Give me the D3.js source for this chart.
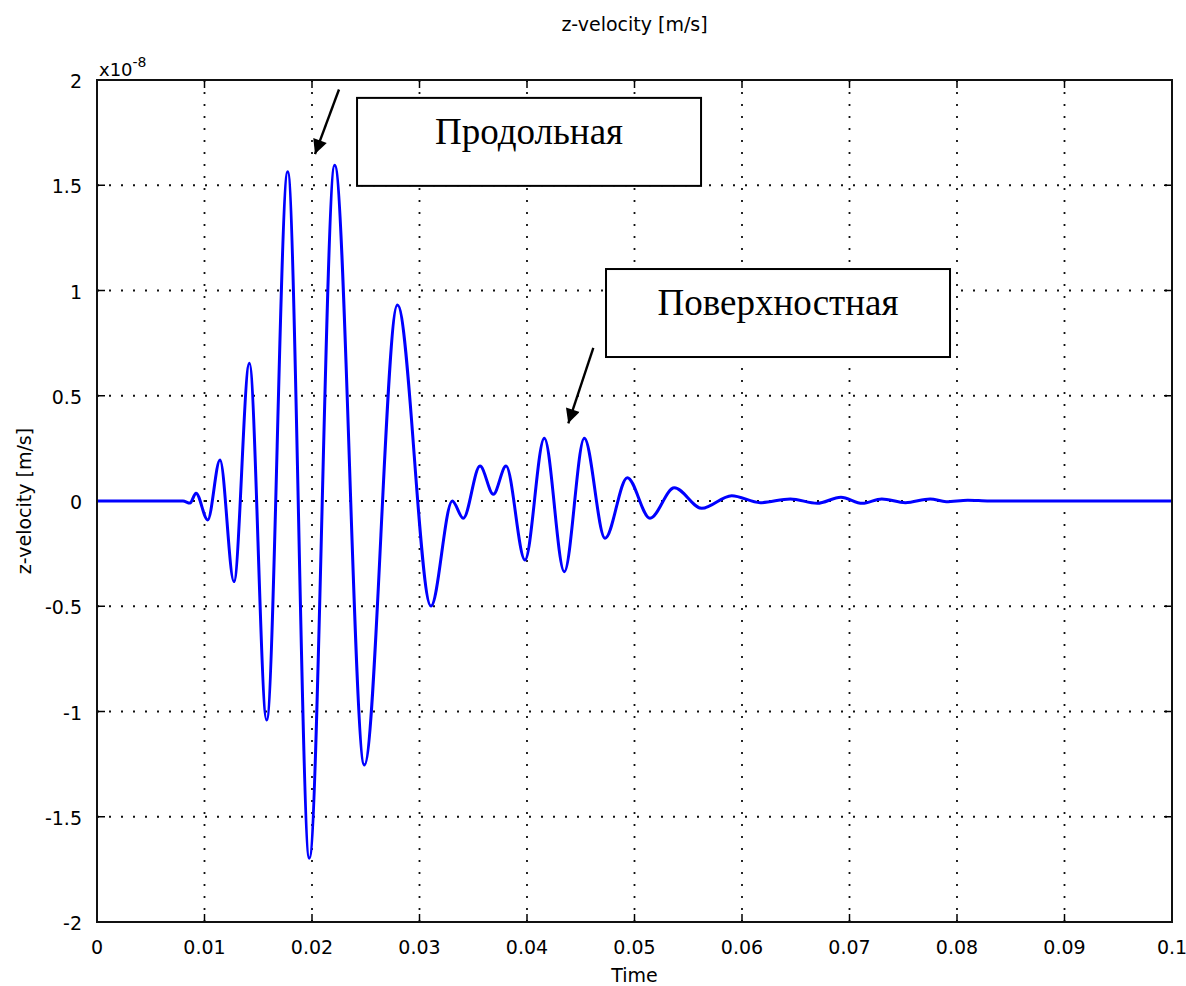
<!DOCTYPE html>
<html>
<head>
<meta charset="utf-8">
<script src="https://cdn.jsdelivr.net/npm/d3@7"></script>
<style>
  body { margin: 0; background: #fff; }
  .tick-label { font-family: "DejaVu Sans", Verdana, sans-serif; font-size: 19px; fill: #000; }
</style>
</head>
<body>
<div id="chart"></div>
<script>
// time [s] and z-velocity [x1e-8 m/s]
var timeValues = [0, 0.0080, 0.00865, 0.00921, 0.01030, 0.01144, 0.01274, 0.01417, 0.01578, 0.01774,
  0.01975, 0.02211, 0.02487, 0.02795, 0.03107, 0.03305, 0.03407, 0.03563, 0.03687, 0.03805,
  0.03981, 0.04161, 0.04347, 0.04533, 0.04726, 0.04933, 0.05144, 0.05370, 0.05625, 0.05904,
  0.0617, 0.0645, 0.0670, 0.0692, 0.0712, 0.0730, 0.0752, 0.0775, 0.0790, 0.0810, 0.0830, 0.1];
var velocityValues = [0, 0, -0.01, 0.037, -0.09, 0.195, -0.383, 0.654, -1.04, 1.564,
  -1.697, 1.595, -1.254, 0.931, -0.499, 0.0, -0.082, 0.166, 0.032, 0.166,
  -0.28, 0.298, -0.336, 0.298, -0.177, 0.111, -0.082, 0.063, -0.035, 0.025,
  -0.008, 0.01, -0.011, 0.018, -0.011, 0.01, -0.008, 0.01, -0.003, 0.004, 0, 0];

var xTicks = [0, 0.01, 0.02, 0.03, 0.04, 0.05, 0.06, 0.07, 0.08, 0.09, 0.1];
var xTickLabels = ["0", "0.01", "0.02", "0.03", "0.04", "0.05", "0.06", "0.07", "0.08", "0.09", "0.1"];
var yTicks = [2, 1.5, 1, 0.5, 0, -0.5, -1, -1.5, -2];
var yTickLabels = ["2", "1.5", "1", "0.5", "0", "-0.5", "-1", "-1.5", "-2"];

// annotations: boxes in data units, arrows [t, v] from -> to
var boxLabels = ["Продольная", "Поверхностная"];
var boxT = [[0.02419, 0.05619], [0.04735, 0.07935]];
var boxV = [[1.915, 1.497], [1.102, 0.684]];
var arrowFrom = [[0.02251, 1.955], [0.04617, 0.728]];
var arrowTo = [[0.02028, 1.648], [0.04384, 0.369]];

var width = 1186, height = 986;
var margin = {top: 80, right: 14, bottom: 64, left: 97};

var svg = d3.select("#chart").append("svg").attr("width", width).attr("height", height);

var x = d3.scaleLinear().domain([0, 0.1]).range([margin.left, width - margin.right]);
var y = d3.scaleLinear().domain([-2, 2]).range([height - margin.bottom, margin.top]);

var data = timeValues.map(function (t, i) { return {t: t, v: velocityValues[i]}; });

// dotted grid
var grid = svg.append("g").attr("stroke", "#111").attr("stroke-width", 1.8).attr("stroke-dasharray", "2,10");
grid.selectAll("line.gx").data(xTicks.slice(1, -1)).enter().append("line")
  .attr("x1", function (d) { return x(d); }).attr("x2", function (d) { return x(d); })
  .attr("y1", y(-2)).attr("y2", y(2));
grid.selectAll("line.gy").data(yTicks.slice(1, -1)).enter().append("line")
  .attr("y1", function (d) { return y(d); }).attr("y2", function (d) { return y(d); })
  .attr("x1", x(0)).attr("x2", x(0.1));

// inward ticks on all four sides
var tk = svg.append("g").attr("stroke", "#000").attr("stroke-width", 1.5);
xTicks.forEach(function (d) {
  tk.append("line").attr("x1", x(d)).attr("x2", x(d)).attr("y1", y(-2)).attr("y2", y(-2) - 8);
  tk.append("line").attr("x1", x(d)).attr("x2", x(d)).attr("y1", y(2)).attr("y2", y(2) + 8);
});
yTicks.forEach(function (d) {
  tk.append("line").attr("y1", y(d)).attr("y2", y(d)).attr("x1", x(0)).attr("x2", x(0) + 8);
  tk.append("line").attr("y1", y(d)).attr("y2", y(d)).attr("x1", x(0.1)).attr("x2", x(0.1) - 8);
});

// signal
var line = d3.line().x(function (d) { return x(d.t); }).y(function (d) { return y(d.v); })
  .curve(d3.curveMonotoneX);
svg.append("path").datum(data).attr("d", line)
  .attr("fill", "none").attr("stroke", "#0000ff").attr("stroke-width", 3).attr("stroke-linejoin", "round");

// frame
svg.append("rect").attr("x", x(0)).attr("y", y(2)).attr("width", x(0.1) - x(0)).attr("height", y(-2) - y(2))
  .attr("fill", "none").attr("stroke", "#111").attr("stroke-width", 2);

// tick labels
svg.append("g").selectAll("text").data(xTicks).enter().append("text").attr("class", "tick-label")
  .attr("x", function (d) { return x(d); }).attr("y", y(-2) + 32)
  .attr("text-anchor", "middle")
  .text(function (d, i) { return xTickLabels[i]; });
svg.append("g").selectAll("text").data(yTicks).enter().append("text").attr("class", "tick-label")
  .attr("x", x(0) - 15).attr("y", function (d) { return y(d) + 8; })
  .attr("text-anchor", "end")
  .text(function (d, i) { return yTickLabels[i]; });

// exponent
var ex = svg.append("text").attr("x", x(0) + 2).attr("y", y(2) - 4)
  .attr("font-family", "DejaVu Sans, sans-serif").attr("font-size", 18);
ex.append("tspan").text("x10");
ex.append("tspan").attr("dy", -9).attr("font-size", 14).text("-8");

// titles
svg.append("text").attr("x", (x(0) + x(0.1)) / 2).attr("y", 31).attr("text-anchor", "middle")
  .attr("font-family", "DejaVu Sans, sans-serif").attr("font-size", 19).text("z-velocity [m/s]");
svg.append("text").attr("x", (x(0) + x(0.1)) / 2).attr("y", 982).attr("text-anchor", "middle")
  .attr("font-family", "DejaVu Sans, sans-serif").attr("font-size", 19).text("Time");
svg.append("text").attr("transform", "translate(31," + y(0) + ") rotate(-90)").attr("text-anchor", "middle")
  .attr("font-family", "DejaVu Sans, sans-serif").attr("font-size", 19).text("z-velocity [m/s]");

// annotation boxes
var ann = svg.append("g");
boxLabels.forEach(function (label, i) {
  var x0 = x(boxT[i][0]), x1 = x(boxT[i][1]), y0 = y(boxV[i][0]), y1 = y(boxV[i][1]);
  ann.append("rect").attr("x", x0).attr("y", y0).attr("width", x1 - x0).attr("height", y1 - y0)
    .attr("fill", "#fff").attr("stroke", "#000").attr("stroke-width", 2);
  ann.append("text").attr("x", (x0 + x1) / 2).attr("y", y0 + 46).attr("text-anchor", "middle")
    .attr("font-family", "Liberation Serif, Times New Roman, serif").attr("font-size", 37).text(label);
});

svg.append("defs").append("marker").attr("id", "arrowhead")
  .attr("viewBox", "0 0 10 10").attr("refX", 10).attr("refY", 5)
  .attr("markerWidth", 7).attr("markerHeight", 6).attr("markerUnits", "strokeWidth")
  .attr("orient", "auto")
  .append("path").attr("d", "M0,0 L10,5 L0,10 Z").attr("fill", "#000");

arrowFrom.forEach(function (f, i) {
  ann.append("line").attr("x1", x(f[0])).attr("y1", y(f[1]))
    .attr("x2", x(arrowTo[i][0])).attr("y2", y(arrowTo[i][1]))
    .attr("stroke", "#000").attr("stroke-width", 2.4).attr("marker-end", "url(#arrowhead)");
});
</script>
</body>
</html>
